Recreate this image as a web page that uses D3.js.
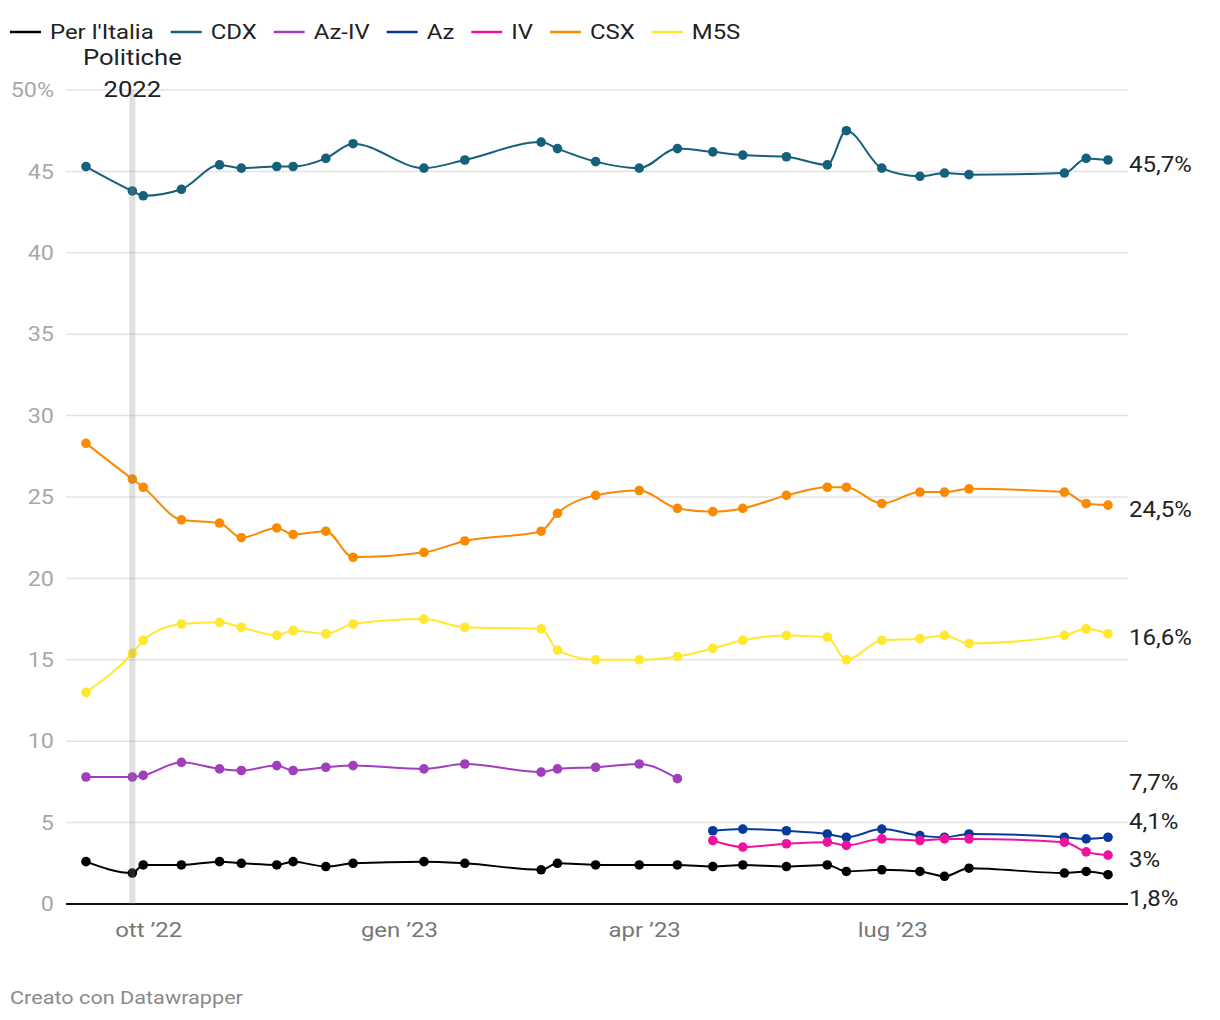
<!DOCTYPE html>
<html>
<head>
<meta charset="utf-8">
<script src="https://cdn.jsdelivr.net/npm/d3@7"></script>
<style>
  html, body { margin: 0; padding: 0; background: #fff; }
  svg { display: block; font-family: Roboto, "Noto Sans", sans-serif; }
</style>
</head>
<body>
<svg id="chart" width="1220" height="1020"></svg>
<script>
// ---- DATA ----
const dates = ["2022-09-08","2022-09-25","2022-09-29","2022-10-13","2022-10-27","2022-11-04","2022-11-17","2022-11-23","2022-12-05","2022-12-15","2023-01-10","2023-01-25","2023-02-22","2023-02-28","2023-03-14","2023-03-30","2023-04-13","2023-04-26","2023-05-07","2023-05-23","2023-06-07","2023-06-14","2023-06-27","2023-07-11","2023-07-20","2023-07-29","2023-09-02","2023-09-10","2023-09-18"];
const seriesNames = ["Per l'Italia","CDX","Az-IV","Az","IV","CSX","M5S"];
const seriesColors = ["#000000","#15607a","#a03ebd","#063b9b","#f0129e","#fa8a00","#ffe82e"];
const perItalia = [2.6,1.9,2.4,2.4,2.6,2.5,2.4,2.6,2.3,2.5,2.6,2.5,2.1,2.5,2.4,2.4,2.4,2.3,2.4,2.3,2.4,2.0,2.1,2.0,1.7,2.2,1.9,2.0,1.8];
const cdx = [45.3,43.8,43.5,43.9,45.4,45.2,45.3,45.3,45.8,46.7,45.2,45.7,46.8,46.4,45.6,45.2,46.4,46.2,46.0,45.9,45.4,47.5,45.2,44.7,44.9,44.8,44.9,45.8,45.7];
const azIv = [7.8,7.8,7.9,8.7,8.3,8.2,8.5,8.2,8.4,8.5,8.3,8.6,8.1,8.3,8.4,8.6,7.7,null,null,null,null,null,null,null,null,null,null,null,null];
const az = [null,null,null,null,null,null,null,null,null,null,null,null,null,null,null,null,null,4.5,4.6,4.5,4.3,4.1,4.6,4.2,4.1,4.3,4.1,4.0,4.1];
const iv = [null,null,null,null,null,null,null,null,null,null,null,null,null,null,null,null,null,3.9,3.5,3.7,3.8,3.6,4.0,3.9,4.0,4.0,3.8,3.2,3.0];
const csx = [28.3,26.1,25.6,23.6,23.4,22.5,23.1,22.7,22.9,21.3,21.6,22.3,22.9,24.0,25.1,25.4,24.3,24.1,24.3,25.1,25.6,25.6,24.6,25.3,25.3,25.5,25.3,24.6,24.5];
const m5s = [13.0,15.4,16.2,17.2,17.3,17.0,16.5,16.8,16.6,17.2,17.5,17.0,16.9,15.6,15.0,15.0,15.2,15.7,16.2,16.5,16.4,15.0,16.2,16.3,16.5,16.0,16.5,16.9,16.6];
const seriesValues = [perItalia, cdx, azIv, az, iv, csx, m5s];
const yTicks = [0,5,10,15,20,25,30,35,40,45,50];
const xTickDates = ["2022-10-01","2023-01-01","2023-04-01","2023-07-01"];
const xTickLabels = ["ott \u201922","gen \u201923","apr \u201923","lug \u201923"];
const annotationDate = "2022-09-25";
const annotationLines = ["Politiche","2022"];

// ---- CHART ----
const parse = d3.timeParse("%Y-%m-%d");
const it = d3.formatLocale({decimal: ",", thousands: ".", grouping: [3], currency: ["€",""]});
const fmt = it.format(".1~f");
const svg = d3.select("#chart");
const SX = 1.14; // horizontal text stretch

function addText(parent, px, py, str, opts) {
  const t = parent.append("text")
    .attr("transform", `translate(${px},${py}) scale(${opts.sx || SX},1)`)
    .attr("x", 0).attr("y", 0)
    .attr("dy", "0.35em")
    .attr("text-anchor", opts.anchor || "start")
    .attr("fill", opts.fill || "#222")
    .attr("font-size", opts.size || 20)
    .text(str);
  return t;
}

const plotLeft = 66, plotRight = 1128, plotTop = 90, plotBottom = 904;
const x = d3.scaleTime().domain([parse(dates[0]), parse(dates[dates.length-1])]).range([86, 1108]);
const y = d3.scaleLinear().domain([0, 50]).range([plotBottom, plotTop]);

// gridlines
svg.append("g").selectAll("line").data(yTicks.filter(d => d !== 0)).join("line")
  .attr("x1", plotLeft).attr("x2", plotRight)
  .attr("y1", d => y(d)).attr("y2", d => y(d))
  .attr("stroke", "#e3e3e3").attr("stroke-width", 1.5);

// y labels
const gy = svg.append("g");
yTicks.forEach(d => addText(gy, 54, y(d), d === 50 ? d + "%" : String(d),
  {anchor: "end", fill: "#a8a8a8", size: 20.5}));

// x labels
const gx = svg.append("g");
xTickDates.forEach((d, i) => addText(gx, x(parse(d)), 930, xTickLabels[i],
  {anchor: "middle", fill: "#777", size: 21}));

// baseline
svg.append("line").attr("x1", plotLeft).attr("x2", plotRight)
  .attr("y1", y(0)).attr("y2", y(0)).attr("stroke", "#111").attr("stroke-width", 2);

// lines & dots
const line = d3.line()
  .x(d => x(d.date)).y(d => y(d.v))
  .curve(d3.curveMonotoneX);

const series = seriesNames.map((name, i) => ({
  name, color: seriesColors[i],
  points: dates.map((d, j) => ({date: parse(d), v: seriesValues[i][j]}))
}));

const gS = svg.append("g");
series.forEach(s => {
  const pts = s.points.filter(p => p.v != null);
  gS.append("path").datum(pts).attr("d", line)
    .attr("fill", "none").attr("stroke", s.color).attr("stroke-width", 2);
  gS.append("g").selectAll("circle").data(pts).join("circle")
    .attr("cx", p => x(p.date)).attr("cy", p => y(p.v)).attr("r", 4.8)
    .attr("fill", s.color);
});

// annotation band
const ax = x(parse(annotationDate));
svg.append("rect").attr("x", ax - 3).attr("width", 6)
  .attr("y", plotTop).attr("height", plotBottom - plotTop)
  .attr("fill", "#868686").attr("opacity", 0.26);
const ga = svg.append("g");
annotationLines.forEach((d, i) => addText(ga, ax, 57 + i * 32.5, d,
  {anchor: "middle", fill: "#222", size: 22.5}));

// right labels with dodge
const labels = series.map(s => {
  const pts = s.points.filter(p => p.v != null);
  const last = pts[pts.length - 1];
  return {text: fmt(last.v) + "%", y0: y(last.v)};
});
labels.sort((a, b) => a.y0 - b.y0);
const gap = 38.5;
let groups = labels.map(l => ({items: [l], c: l.y0}));
let changed = true;
while (changed) {
  changed = false;
  for (let i = 0; i < groups.length - 1; i++) {
    const a = groups[i], b = groups[i+1];
    const aBottom = a.c + (a.items.length - 1) * gap / 2;
    const bTop = b.c - (b.items.length - 1) * gap / 2;
    if (bTop - aBottom < gap) {
      const items = a.items.concat(b.items);
      const c = d3.mean(items, d => d.y0);
      groups.splice(i, 2, {items, c});
      changed = true; break;
    }
  }
}
groups.forEach(g => g.items.forEach((l, k) => { l.y = g.c + (k - (g.items.length - 1) / 2) * gap; }));
const gl = svg.append("g");
labels.forEach(l => addText(gl, 1129, l.y + 4, l.text, {fill: "#222", size: 21.5, sx: 1.12}));

// legend
const leg = svg.append("g");
let lx = 10;
seriesNames.forEach((n, i) => {
  leg.append("line").attr("x1", lx).attr("x2", lx + 31).attr("y1", 32).attr("y2", 32)
    .attr("stroke", seriesColors[i]).attr("stroke-width", 2.5);
  const t = addText(leg, lx + 40, 32, n, {fill: "#222", size: 21});
  lx += 40 + t.node().getComputedTextLength() * SX + 17;
});

// footer
addText(svg, 10, 997, "Creato con Datawrapper", {fill: "#8a8a8a", size: 19});
</script>
</body>
</html>
